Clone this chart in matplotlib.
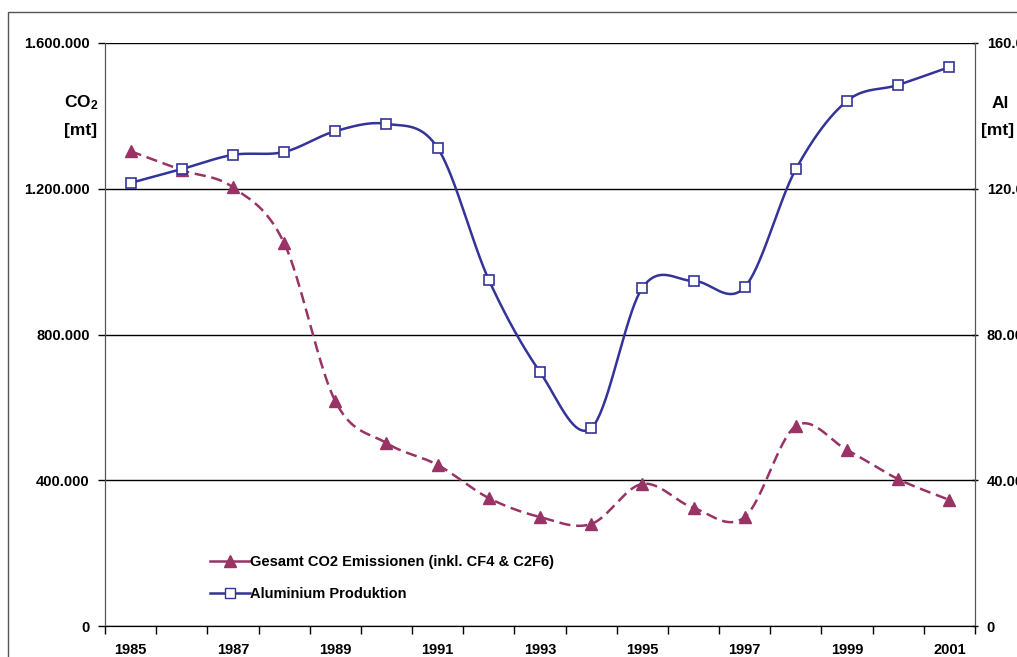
import numpy as np
import matplotlib
matplotlib.use("Agg")
import matplotlib.pyplot as plt
from matplotlib.lines import Line2D
from matplotlib.patches import Rectangle
from matplotlib.ticker import FuncFormatter, FixedLocator

plt.rcParams['font.family'] = ['Liberation Sans', 'DejaVu Sans']
plt.rcParams['font.weight'] = 'bold'
plt.rcParams['mathtext.fontset'] = 'custom'
plt.rcParams['mathtext.rm'] = 'Liberation Sans'
plt.rcParams['mathtext.bf'] = 'Liberation Sans:bold'

# data
years = list(range(1985, 2002))
co2 = [1303000, 1251000, 1204000, 1051000, 617000, 502000, 442000, 351000,
       299000, 280000, 390000, 324000, 299000, 549000, 483000, 403000, 346000]
alu = [121600, 125400, 129300, 130100, 135800, 137800, 131200, 95000,
       69700, 54300, 92800, 94700, 93000, 125400, 144100, 148500, 153400]
co2_label = "Gesamt CO2 Emissionen (inkl. CF4 & C2F6)"
alu_label = "Aluminium Produktion"

co2_color = '#993366'
alu_color = '#333399'


def smooth(x, y, n=40):
    # excel-like smoothed line (catmull-rom as cubic bezier)
    x = np.asarray(x, float)
    y = np.asarray(y, float)
    px = np.concatenate([[x[0]], x, [x[-1]]])
    py = np.concatenate([[y[0]], y, [y[-1]]])
    t = np.linspace(0, 1, n)
    xs, ys = [], []
    for i in range(len(x) - 1):
        p0 = np.array([px[i], py[i]])
        p1 = np.array([px[i + 1], py[i + 1]])
        p2 = np.array([px[i + 2], py[i + 2]])
        p3 = np.array([px[i + 3], py[i + 3]])
        c1 = p1 + (p2 - p0) / 6
        c2 = p2 - (p3 - p1) / 6
        b = ((1 - t) ** 3)[:, None] * p1 + (3 * (1 - t) ** 2 * t)[:, None] * c1 \
            + (3 * (1 - t) * t ** 2)[:, None] * c2 + (t ** 3)[:, None] * p2
        xs.append(b[:, 0])
        ys.append(b[:, 1])
    return np.concatenate(xs), np.concatenate(ys)


fig = plt.figure(figsize=(10.17, 6.57), dpi=100)
ax = fig.add_axes([105 / 1017, 1 - 626 / 657, 870 / 1017, 583 / 657])
ax2 = ax.twinx()

xi = np.arange(len(years))

# CO2 on the left axis
sx, sy = smooth(xi, co2)
ax.plot(sx, sy, color=co2_color, lw=1.8, dashes=(4.5, 2.3), zorder=3)
ax.plot(xi, co2, ls='none', marker='^', ms=9, color=co2_color, zorder=4)

# aluminium on the right axis
sx, sy = smooth(xi, alu)
ax2.plot(sx, sy, color=alu_color, lw=1.8, zorder=3)
ax2.plot(xi, alu, ls='none', marker='s', ms=7.5, mfc='white', mec=alu_color,
         mew=1.2, zorder=4)

ax.set_xlim(-0.5, len(years) - 0.5)
ax.set_ylim(0, 1600000)
ax2.set_ylim(0, 160000)

ax.set_yticks([0, 400000, 800000, 1200000, 1600000])
ax2.set_yticks([0, 40000, 80000, 120000, 160000])
dotfmt = FuncFormatter(lambda v, p: f"{int(v):,}".replace(",", "."))
ax.yaxis.set_major_formatter(dotfmt)
ax2.yaxis.set_major_formatter(dotfmt)

ax.grid(axis='y', color='black', lw=1)
ax.set_axisbelow(True)

# ticks between categories, labels on every second year
ax.xaxis.set_major_locator(FixedLocator(np.arange(-0.5, len(years), 1.0)))
ax.xaxis.set_minor_locator(FixedLocator(xi[::2]))
ax.set_xticklabels([])
ax.set_xticklabels([str(y) for y in years[::2]], minor=True)
ax.tick_params(axis='x', which='major', length=6, width=1, direction='out')
ax.tick_params(axis='x', which='minor', length=0, pad=12, labelsize=10.5)
ax.tick_params(axis='y', length=5, width=1, pad=6, labelsize=10.5)
ax2.tick_params(axis='y', length=5, width=1, pad=6, labelsize=10.5,
                direction='inout')

for a in (ax, ax2):
    a.spines['top'].set_visible(False)
    for s in ('left', 'right'):
        a.spines[s].set_color('#555555')
ax.spines['bottom'].set_color('black')

# axis titles
fig.text(81 / 1017, 1 - 103 / 657, r'$\mathbf{CO_2}$', ha='center', va='center',
         fontsize=12.5)
fig.text(81 / 1017, 1 - 130 / 657, '[mt]', ha='center', va='center', fontsize=12.5)
fig.text(1000 / 1017, 1 - 103 / 657, 'Al', ha='center', va='center', fontsize=12.5)
fig.text(998 / 1017, 1 - 130 / 657, '[mt]', ha='center', va='center', fontsize=12.5)

handles = [
    Line2D([], [], color=co2_color, lw=1.8, marker='^', ms=8),
    Line2D([], [], color=alu_color, lw=1.8, marker='s', ms=7, mfc='white',
           mec=alu_color),
]
ax.legend(handles, [co2_label, alu_label], loc='upper left',
          bbox_to_anchor=(203 / 1017, 1 - 548 / 657),
          bbox_transform=fig.transFigure, frameon=False, fontsize=10.5,
          handlelength=2.7, handletextpad=0.05, labelspacing=1.2, borderpad=0)

# chart area border
fig.patches.append(Rectangle((8 / 1017, -0.1), 1.2, 1.1 - 12 / 657,
                             transform=fig.transFigure, fill=False,
                             edgecolor='#555555', lw=1))

fig.savefig('out.png', dpi=100)
